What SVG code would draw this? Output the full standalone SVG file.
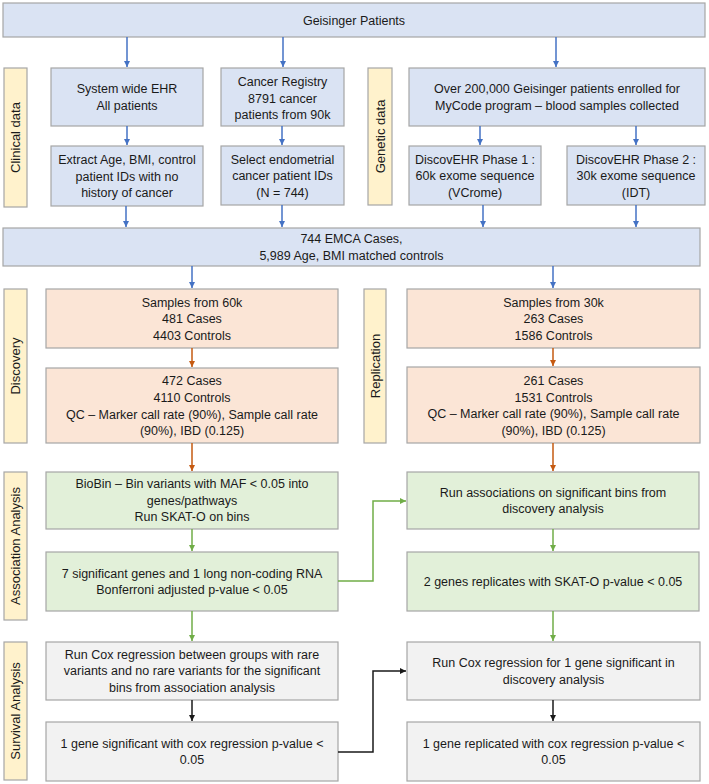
<svg xmlns="http://www.w3.org/2000/svg" width="709" height="784" viewBox="0 0 709 784">
<defs>
<style>
text{font-family:"Liberation Sans",Arial,sans-serif;font-size:12.5px;fill:#1a1a1a;text-anchor:middle}
.box rect{stroke:#a6a6a6;stroke-width:1.2}
.blue rect{fill:#dae3f3}
.orange rect{fill:#fbe5d6}
.green rect{fill:#e2f0d9}
.grey rect{fill:#f2f2f2}
.lab rect{fill:#fff2cc;stroke:#a6a6a6;stroke-width:1.2}
.lab text{font-size:13px}
.c{fill:none;stroke-width:1.5}
.cb{stroke:#4472c4}
.co{stroke:#c55a11}
.cg{stroke:#70ad47}
.ck{stroke:#1a1a1a}
</style>
<marker id="ab" markerUnits="userSpaceOnUse" markerWidth="7" markerHeight="7" refX="6" refY="3" orient="auto"><path d="M0,0 L6,3 L0,6 z" fill="#4472c4"/></marker>
<marker id="ao" markerUnits="userSpaceOnUse" markerWidth="7" markerHeight="7" refX="6" refY="3" orient="auto"><path d="M0,0 L6,3 L0,6 z" fill="#c55a11"/></marker>
<marker id="ag" markerUnits="userSpaceOnUse" markerWidth="7" markerHeight="7" refX="6" refY="3" orient="auto"><path d="M0,0 L6,3 L0,6 z" fill="#70ad47"/></marker>
<marker id="ak" markerUnits="userSpaceOnUse" markerWidth="7" markerHeight="7" refX="6" refY="3" orient="auto"><path d="M0,0 L6,3 L0,6 z" fill="#1a1a1a"/></marker>
</defs>
<rect width="709" height="784" fill="#ffffff"/>

<g id="labels">
<g id="lab-clinical" class="lab"><rect x="4" y="68" width="23" height="139"/><text transform="translate(20,137.5) rotate(-90)">Clinical data</text></g>
<g id="lab-genetic" class="lab"><rect x="368" y="68" width="24" height="137"/><text transform="translate(384.5,136.5) rotate(-90)">Genetic data</text></g>
<g id="lab-discovery" class="lab"><rect x="4" y="289" width="23" height="154"/><text transform="translate(20,366) rotate(-90)">Discovery</text></g>
<g id="lab-replication" class="lab"><rect x="364" y="289" width="22" height="154"/><text transform="translate(379.5,366) rotate(-90)">Replication</text></g>
<g id="lab-association" class="lab"><rect x="4" y="472" width="23" height="148"/><text transform="translate(20,546) rotate(-90)">Association Analysis</text></g>
<g id="lab-survival" class="lab"><rect x="4" y="642" width="23" height="138"/><text transform="translate(20,711) rotate(-90)">Survival Analysis</text></g>
</g>

<g id="geisinger" class="box blue"><rect x="3" y="3" width="702" height="34"/><text x="354" y="24.5">Geisinger Patients</text></g>
<g id="ehr" class="box blue"><rect x="51" y="68" width="152" height="58"/><text x="127" y="93">System wide EHR</text><text x="127" y="109.6">All patients</text></g>
<g id="registry" class="box blue"><rect x="221" y="68" width="123" height="58"/><text x="282.5" y="86">Cancer Registry</text><text x="282.5" y="102.6">8791 cancer</text><text x="282.5" y="119.2">patients from 90k</text></g>
<g id="extract" class="box blue"><rect x="51" y="146" width="152" height="60"/><text x="127" y="164">Extract Age, BMI, control</text><text x="127" y="180.6">patient IDs with no</text><text x="127" y="197.2">history of cancer</text></g>
<g id="select" class="box blue"><rect x="221" y="146" width="123" height="59"/><text x="282.5" y="163.5">Select endometrial</text><text x="282.5" y="180.1">cancer patient IDs</text><text x="282.5" y="196.7">(N = 744)</text></g>
<g id="mycode" class="box blue"><rect x="409" y="68" width="296" height="58"/><text x="557" y="93">Over 200,000 Geisinger patients enrolled for</text><text x="557" y="109.6">MyCode program – blood samples collected</text></g>
<g id="phase1" class="box blue"><rect x="409" y="146" width="132" height="59"/><text x="475" y="163.5">DiscovEHR Phase 1 :</text><text x="475" y="180.1">60k exome sequence</text><text x="475" y="196.7">(VCrome)</text></g>
<g id="phase2" class="box blue"><rect x="567" y="146" width="138" height="59"/><text x="636" y="163.5">DiscovEHR Phase 2 :</text><text x="636" y="180.1">30k exome sequence</text><text x="636" y="196.7">(IDT)</text></g>
<g id="merged" class="box blue"><rect x="3" y="228" width="697" height="38"/><text x="351.5" y="243">744 EMCA Cases,</text><text x="351.5" y="259.6">5,989 Age, BMI matched controls</text></g>

<g id="s60" class="box orange"><rect x="46" y="289" width="292" height="59"/><text x="192" y="306.5">Samples from 60k</text><text x="192" y="323.1">481 Cases</text><text x="192" y="339.7">4403 Controls</text></g>
<g id="qc1" class="box orange"><rect x="46" y="368" width="292" height="75"/><text x="192" y="385.4">472 Cases</text><text x="192" y="402">4110 Controls</text><text x="192" y="418.6">QC – Marker call rate (90%), Sample call rate</text><text x="192" y="435.2">(90%), IBD (0.125)</text></g>
<g id="s30" class="box orange"><rect x="407" y="289" width="293" height="59"/><text x="553.5" y="306.5">Samples from 30k</text><text x="553.5" y="323.1">263 Cases</text><text x="553.5" y="339.7">1586 Controls</text></g>
<g id="qc2" class="box orange"><rect x="407" y="367" width="293" height="76"/><text x="553.5" y="384.9">261 Cases</text><text x="553.5" y="401.5">1531 Controls</text><text x="553.5" y="418.1">QC – Marker call rate (90%), Sample call rate</text><text x="553.5" y="434.7">(90%), IBD (0.125)</text></g>

<g id="biobin" class="box green"><rect x="46" y="472" width="292" height="57"/><text x="192" y="488.2">BioBin – Bin variants with MAF &lt; 0.05 into</text><text x="192" y="504.8">genes/pathways</text><text x="192" y="521.4">Run SKAT-O on bins</text></g>
<g id="sig7" class="box green"><rect x="46" y="552" width="292" height="59"/><text x="192" y="577.5">7 significant genes and 1 long non-coding RNA</text><text x="192" y="594.1">Bonferroni adjusted p-value &lt; 0.05</text></g>
<g id="runassoc" class="box green"><rect x="407" y="472" width="292" height="57"/><text x="553" y="496.5">Run associations on significant bins from</text><text x="553" y="513.1">discovery analysis</text></g>
<g id="genes2" class="box green"><rect x="407" y="552" width="292" height="59"/><text x="553" y="585.8">2 genes replicates with SKAT-O p-value &lt; 0.05</text></g>

<g id="cox1" class="box grey"><rect x="46" y="642" width="292" height="58"/><text x="192" y="658.7">Run Cox regression between groups with rare</text><text x="192" y="675.3">variants and no rare variants for the significant</text><text x="192" y="691.9">bins from association analysis</text></g>
<g id="gene1sig" class="box grey"><rect x="46" y="722" width="292" height="59"/><text x="192" y="747.5">1 gene significant with cox regression p-value &lt;</text><text x="192" y="764.1">0.05</text></g>
<g id="cox2" class="box grey"><rect x="407" y="642" width="293" height="58"/><text x="553.5" y="667">Run Cox regression for 1 gene significant in</text><text x="553.5" y="683.6">discovery analysis</text></g>
<g id="gene1rep" class="box grey"><rect x="407" y="722" width="293" height="59"/><text x="553.5" y="747.5">1 gene replicated with cox regression p-value &lt;</text><text x="553.5" y="764.1">0.05</text></g>

<g id="connectors">
<path class="c cb" marker-end="url(#ab)" d="M127,37 V67"/>
<path class="c cb" marker-end="url(#ab)" d="M283,37 V67"/>
<path class="c cb" marker-end="url(#ab)" d="M556,37 V67"/>
<path class="c cb" marker-end="url(#ab)" d="M127,126 V145"/>
<path class="c cb" marker-end="url(#ab)" d="M282,126 V145"/>
<path class="c cb" marker-end="url(#ab)" d="M480,126 V145"/>
<path class="c cb" marker-end="url(#ab)" d="M636,126 V145"/>
<path class="c cb" marker-end="url(#ab)" d="M126,206 V227"/>
<path class="c cb" marker-end="url(#ab)" d="M282,205 V227"/>
<path class="c cb" marker-end="url(#ab)" d="M483,205 V227"/>
<path class="c cb" marker-end="url(#ab)" d="M636,205 V227"/>
<path class="c cb" marker-end="url(#ab)" d="M192,266 V288"/>
<path class="c cb" marker-end="url(#ab)" d="M553,266 V288"/>
<path class="c co" marker-end="url(#ao)" d="M192,348 V367"/>
<path class="c co" marker-end="url(#ao)" d="M553,348 V366"/>
<path class="c co" marker-end="url(#ao)" d="M192,443 V471"/>
<path class="c co" marker-end="url(#ao)" d="M553,443 V471"/>
<path class="c cg" marker-end="url(#ag)" d="M192,529 V551"/>
<path class="c cg" marker-end="url(#ag)" d="M553,529 V551"/>
<path class="c cg" marker-end="url(#ag)" d="M192,611 V641"/>
<path class="c cg" marker-end="url(#ag)" d="M553,611 V641"/>
<path class="c cg" marker-end="url(#ag)" d="M338,581 H373 V501 H406"/>
<path class="c ck" marker-end="url(#ak)" d="M192,700 V721"/>
<path class="c ck" marker-end="url(#ak)" d="M553,700 V721"/>
<path class="c ck" marker-end="url(#ak)" d="M338,752 H373 V671 H406"/>
</g>
</svg>
